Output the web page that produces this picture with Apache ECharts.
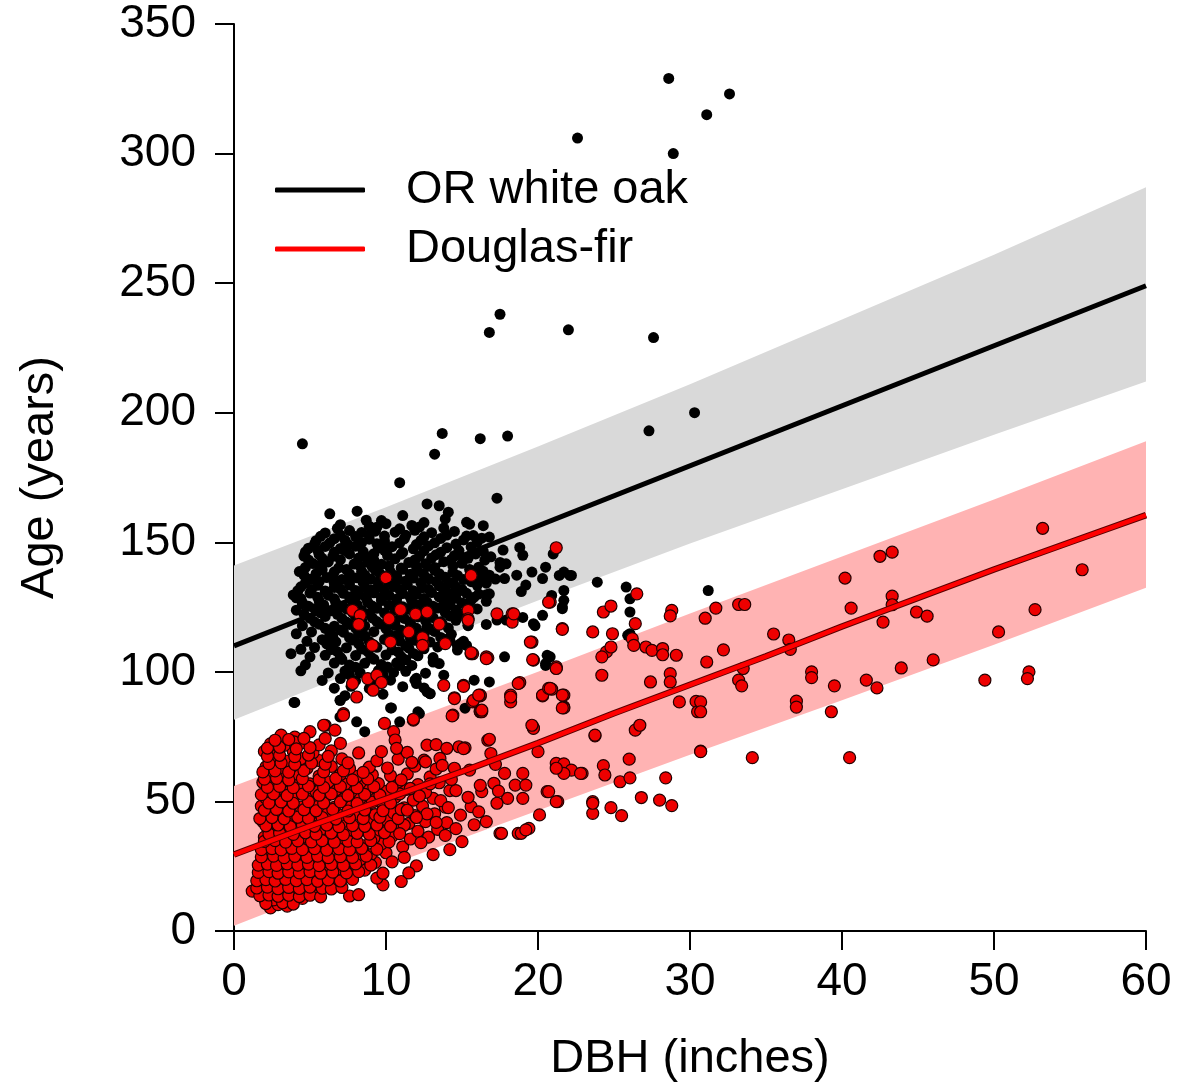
<!DOCTYPE html>
<html>
<head>
<meta charset="utf-8">
<script src="https://cdn.jsdelivr.net/npm/echarts@6/dist/echarts.min.js"></script>
<style>
html,body{margin:0;padding:0;background:#fff;}
#chart{width:1177px;height:1088px;}
</style>
</head>
<body>
<div id="chart"></div>
<script>
// ---- tick labels / axes ----
const xTicks = [0, 10, 20, 30, 40, 50, 60];
const yTicks = [0, 50, 100, 150, 200, 250, 300, 350];
const seriesNames = ['OR white oak', 'Douglas-fir'];

// ---- fitted lines ----
const oakLineX = [0, 60];
const oakLineY = [110, 249];
const firLineX = [0, 5, 10, 15, 20, 25, 30, 35, 40, 45, 50, 55, 60];
const firLineY = [29.5, 40.5, 51, 61.5, 72.5, 84, 95, 106, 117.5, 128.5, 139.5, 150, 160.5];

// ---- prediction bands ----
const bandX = [0, 10, 20, 30, 40, 50, 60];
const oakUpper = [141, 163.5, 187, 211, 236, 261, 287];
const oakLower = [81.5, 105, 127.5, 149.5, 170.5, 191.5, 212];
const firUpper = [56, 78, 100, 122.5, 144.5, 166.5, 189];
const firLower = [2, 25, 46.5, 68, 89, 110.5, 132.5];

// ---- OR white oak observations [DBH, age] ----
const oakPoints = [
[28.6,329],[31.1,315],[32.6,323],[22.6,306],[28.9,300],[17.5,238],[16.8,231],[22.0,232],[27.6,229],[4.5,188],[13.7,192],[13.2,184],[16.2,190],[18.0,191],[27.3,193],[30.3,200],[10.9,173],[17.3,167],
[6.3,161],[8.1,162],[8.7,158.5],[9.7,158.4],[11.1,160.3],[12.7,164.8],[13.5,164.1],[14.1,161.6],[13.9,159],[15.3,157.7],[16.4,156.4],[15.5,157],
[7.0,156.8],[10.0,157.2],[11.7,156.5],[12.5,157.6],[8.9,156.2],
[6.0,153.6],[7.6,154.5],[8.4,153.8],[9.3,154.3],[10.6,153.9],[11.9,154.6],[13.0,153.7],[14.5,154.2],
[5.4,150.6],[6.6,151.4],[7.3,150.8],[8.9,151.2],[9.9,150.5],[11.2,151.3],[12.3,150.7],[13.6,151.5],[15.1,150.9],[16.3,151.6],
[4.9,147.7],[6.0,148.4],[7.0,147.6],[8.0,148.5],[9.5,147.8],[10.4,148.3],[11.8,147.5],[12.8,148.6],[14.0,147.9],[15.6,148.2],
[4.6,144.7],[5.6,145.3],[6.5,144.6],[7.6,145.5],[8.6,144.8],[9.2,145.6],[10.1,144.9],[11.0,145.4],[12.2,144.6],[13.3,145.2],[14.5,144.8],[15.9,145.5],[16.9,144.4],
[5.2,141.8],[6.2,142.4],[7.9,141.6],[8.8,142.3],[9.7,141.5],[11.5,142.2],[12.6,141.7],[13.8,142.5],[15.0,141.9],[17.5,142.2],
[4.3,138.7],[5.8,139.4],[6.6,138.6],[7.4,139.5],[8.4,138.8],[9.3,139.3],[10.3,138.5],[11.1,139.6],[12.1,138.9],[13.2,139.2],[14.4,138.4],[15.5,139.5],[16.4,138.8],
[5.0,135.7],[6.1,136.4],[7.1,135.6],[8.1,136.3],[9.0,135.8],[10.0,136.6],[10.8,135.5],[11.8,136.2],[12.8,135.9],[13.9,136.5],[15.1,135.6],[16.1,136.3],[17.2,135.8],
[4.4,132.8],[5.5,133.4],[6.6,132.6],[7.6,133.5],[8.6,132.7],[9.5,133.3],[10.5,132.9],[11.4,133.6],[12.4,132.5],[13.5,133.2],[14.6,132.8],[16.0,133.4],
[3.9,129.7],[5.0,130.4],[6.2,129.6],[7.2,130.3],[8.2,129.8],[9.2,130.5],[10.2,129.5],[11.1,130.2],[12.0,129.9],[13.0,130.6],[14.2,129.6],[15.3,130.3],[16.6,129.8],
[4.5,126.7],[5.6,127.4],[6.7,126.6],[7.8,127.3],[8.8,126.8],[9.7,127.5],[10.7,126.5],[11.7,127.2],[12.7,126.9],[13.8,127.6],[15.0,126.6],
[4.1,123.8],[5.3,124.4],[6.4,123.6],[7.4,124.3],[8.4,123.7],[9.4,124.5],[10.6,123.8],[11.5,124.2],[12.4,123.5],[13.4,124.6],[14.6,123.9],[16.0,124.3],
[5.0,120.7],[6.0,121.4],[7.1,120.6],[8.0,121.3],[9.1,120.8],[10.1,121.5],[11.2,120.6],[12.1,121.2],[13.1,120.9],[14.2,121.6],[15.3,120.5],
[4.5,117.8],[5.6,118.4],[6.6,117.6],[7.6,118.3],[8.6,117.7],[9.6,118.5],[10.6,117.9],[11.6,118.2],[12.7,117.5],[13.7,118.6],[15.4,117.8],[16.6,118.3],
[4.1,114.7],[5.1,115.4],[6.3,114.6],[7.2,115.3],[8.2,114.8],[9.2,115.5],[10.2,114.6],[11.1,115.2],[12.2,114.9],[13.2,115.6],[14.3,114.5],
[4.8,111.8],[5.8,112.4],[6.7,111.6],[7.8,112.3],[8.9,111.7],[9.9,112.5],[10.9,111.9],[11.9,112.2],[12.9,111.5],[14.0,112.6],[15.1,111.8],
[4.4,108.7],[5.3,109.4],[6.4,108.6],[7.4,109.3],[8.4,108.8],[9.4,109.5],[10.4,108.5],[11.5,109.2],[12.5,108.9],[13.4,109.6],[14.7,108.4],
[5.0,105.8],[6.0,106.4],[7.0,105.6],[8.0,106.3],[9.0,105.7],[10.0,106.5],[11.0,105.9],[12.1,106.2],[13.1,105.5],
[4.7,102.7],[6.6,103.4],[7.6,102.6],[8.6,103.3],[9.7,102.8],[10.7,103.5],[11.7,102.5],[13.5,103.2],
[4.4,100.4],[6.2,99.6],[7.3,100.3],[8.3,99.7],[9.5,100.5],[10.5,99.8],[11.3,100.2],[12.6,99.5],
[5.8,96.7],[7.0,97.4],[8.0,96.6],[9.2,97.3],[10.3,96.8],[12.0,97.5],
[6.6,93.7],[7.7,94.4],[8.9,93.6],[11.1,94.3],[12.5,93.8],
[7.3,90.8],[9.8,91.4],[12.9,91.6],[4.0,88.2],[7.0,89.0],[10.3,86.1],
[6.8,155.4],[9.4,155.8],[10.9,155.2],[12.2,155.9],[13.8,155.5],
[5.7,152.3],[7.0,152.8],[8.0,152.2],[8.9,152.9],[9.9,152.4],[11.3,152.7],[12.5,152.1],[14.0,152.8],[15.3,152.4],
[5.3,149.3],[6.3,149.8],[7.5,149.2],[8.4,149.9],[9.4,149.4],[10.9,149.7],[12.0,149.1],[13.2,149.8],[14.6,149.3],[16.0,150.0],
[4.7,146.3],[5.5,146.9],[6.6,146.2],[7.3,146.8],[8.5,146.4],[9.9,146.9],[11.1,146.1],[12.5,146.7],[13.6,146.2],[14.8,146.8],[16.4,146.5],
[4.9,143.2],[5.8,143.8],[7.0,143.3],[8.2,143.9],[9.2,143.1],[10.6,143.6],[11.9,143.2],[13.0,143.9],[14.3,143.4],[15.4,143.8],[16.5,143.1],
[4.7,140.3],[5.6,140.9],[6.9,140.2],[8.3,140.8],[9.1,140.4],[10.2,140.9],[11.0,140.1],[12.0,140.7],[13.2,140.3],[14.4,140.9],[16.1,140.4],
[4.6,137.3],[5.4,137.9],[6.5,137.2],[7.6,137.8],[8.6,137.4],[9.6,137.9],[10.7,137.1],[11.6,137.7],[12.5,137.3],[13.5,137.9],[14.7,137.2],[15.8,137.8],[16.8,137.3],
[4.7,134.3],[5.6,134.8],[6.6,134.2],[7.6,134.9],[8.5,134.4],[9.5,134.7],[10.4,134.1],[11.3,134.8],[12.3,134.3],[13.3,134.9],[14.4,134.4],[15.6,134.8],[16.6,134.2],
[4.2,131.3],[5.1,131.8],[6.0,131.2],[7.0,131.9],[8.0,131.4],[9.0,131.7],[9.9,131.1],[10.9,131.8],[11.8,131.3],[12.8,131.9],[13.8,131.4],[15.0,131.8],
[4.4,128.3],[5.5,128.8],[6.6,128.2],[7.6,128.9],[8.7,128.4],[9.7,128.7],[10.7,128.1],[11.6,128.8],[12.5,128.3],[13.5,128.9],[14.6,128.4],[15.8,128.8],
[4.9,125.3],[5.9,125.8],[7.0,125.2],[8.1,125.9],[9.1,125.4],[10.2,125.7],[11.1,125.1],[12.1,125.8],[13.1,125.3],[14.2,125.9],
[4.6,122.3],[5.7,122.8],[6.8,122.2],[7.8,122.9],[8.9,122.4],[9.9,122.7],[11.0,122.1],[11.9,122.8],[12.9,122.3],[13.9,122.9],[15.0,122.4],
[5.3,119.3],[7.4,119.2],[8.4,119.9],[9.4,119.4],[10.6,119.7],[11.6,119.1],[12.6,119.8],[13.6,119.3],[14.6,119.9],
[6.0,116.8],[7.0,116.2],[8.0,116.9],[10.0,116.7],[11.0,116.1],[12.0,116.8],[13.0,116.3],[14.1,116.9],
[6.5,113.8],[7.6,113.2],[8.6,113.9],[10.6,113.7],[11.6,113.1],[12.5,113.8],[13.6,113.3],
[6.1,110.8],[8.2,110.9],[9.2,110.4],[11.3,110.1],[12.3,110.8],
[6.8,107.8],[8.8,107.9],[10.8,107.7],[11.8,107.1],
[7.1,104.8],[9.2,104.9],[11.3,104.7],
[8.0,101.8],[10.1,101.9],[7.6,98.8],[9.8,98.9],
[15.75,152.6],[16.8,152],[18.8,148],[19.0,145],[17.7,147],[17.9,141.7],[17.5,140.4],[17.8,136],[18.6,137.3],[19.6,138.5],[20.5,140.4],[20.3,136],[21.4,137.2],[22.2,137.2],[21.0,145.5],[21.7,131.4],[21.7,127.6],[21.6,125],[20.9,129.5],[16.4,137.3],[16.8,130.1],[16.1,130],[15.6,127.6],[14.9,131.4],[14.3,130.1],[14.1,134],[13.8,124.4],[15.4,125],[16.6,127.2],[15.4,118],[14.2,112.2],[14.9,110.9],[15.3,110.2],[17.3,120],[17.9,120],[19.0,121],[19.7,118.6],[20.3,121.8],[20.8,105.8],[20.5,103.2],[17.8,105.8],[16.8,96.1],[15.8,96.8],[13.8,98.7],[13.1,103.8],[12.0,95.5],[12.9,91.6],[23.9,134.6],[25.8,132.7],[26.05,128.2],[31.2,131.4],[26.05,123.1],[21.6,124.4],[26.05,114.7],[22.1,137.2],[20.6,106.4],[20.5,102.5],[15.1,94.8],[14.7,110.2],[12.7,92.3],[11.9,96.8],[10.9,102.5],[15.2,86],[12.1,84.6],[8.07,80.7],[8.6,76.9],[6.97,82.6],[10.9,80.7],[12.2,83.9],[3.95,88.2],[6.97,89],[10.36,86.1],[3.75,107],[4.1,128.6],[4.5,126.3],[19.8,117.8],[19.2,133.5],[18.9,131.0],[21.7,138.5],[25.9,114.1]
];

// ---- Douglas-fir observations [DBH, age] ----
const firPoints = [
[2.4,8.9],[2.9,10.2],[3.5,9.6],
[2.0,12.4],[2.6,12.0],[3.2,12.8],[3.9,11.9],[4.5,12.6],
[1.2,15.4],[1.9,15.1],[2.6,15.6],[3.3,14.8],[4.0,15.5],[4.7,14.9],[5.5,15.7],[7.6,13.5],[8.2,14.0],
[1.8,18.2],[2.4,17.7],[3.0,18.5],[3.7,17.9],[4.4,18.4],[5.1,17.6],[5.9,18.3],[6.7,17.8],[9.8,17.8],[11.0,19.1],
[2.2,21.3],[2.8,20.6],[3.4,21.5],[4.1,20.8],[4.8,21.4],[5.6,20.7],[6.3,21.2],[7.2,20.9],[9.4,20.4],[9.8,22.3],
[1.9,24.2],[2.5,23.6],[3.2,24.5],[3.9,23.8],[4.6,24.4],[5.3,23.7],[6.0,24.3],[6.8,23.9],[7.7,24.6],[8.6,23.5],
[2.3,27.3],[3.0,26.6],[3.7,27.4],[4.4,26.8],[5.1,27.5],[5.9,26.7],[6.6,27.2],[7.4,26.9],[8.3,27.6],[9.3,26.5],
[2.1,29.8],[2.7,30.5],[3.4,29.6],[4.2,30.3],[4.9,29.7],[5.7,30.4],[6.5,29.9],[7.9,30.6],[9.0,29.5],[10.0,30.2],
[2.4,33.3],[3.1,32.6],[3.9,33.5],[4.7,32.8],[5.5,33.4],[6.2,32.7],[7.1,33.2],[8.5,32.9],[9.7,33.6],[11.1,32.5],
[2.0,36.2],[2.8,35.6],[3.6,36.5],[4.4,35.8],[6.0,36.3],[6.9,35.7],[7.8,36.4],[9.2,35.9],[10.4,36.6],[11.6,35.5],[12.8,36.2],
[2.5,39.3],[3.3,38.6],[4.1,39.4],[5.0,38.8],[5.8,39.5],[7.5,38.7],[8.4,39.2],[9.6,38.9],[10.9,39.6],[12.1,38.5],[13.4,39.2],
[1.9,42.2],[2.7,41.6],[3.5,42.5],[4.6,41.8],[5.4,42.4],[6.4,41.7],[7.2,42.3],[8.8,41.9],[10.1,42.6],[11.5,41.5],[12.6,42.2],[14.0,41.8],
[2.3,45.3],[3.1,44.6],[3.9,45.4],[5.0,44.8],[6.1,45.5],[7.0,44.7],[8.1,45.2],[9.3,44.9],[10.5,45.6],[11.9,44.5],[13.2,45.2],
[1.8,48.2],[2.6,47.6],[3.5,48.5],[4.4,47.8],[5.6,48.4],[6.6,47.7],[7.7,48.3],[8.7,47.9],[9.8,48.6],[11.2,47.5],[12.4,48.2],[13.9,47.8],
[2.1,51.3],[2.9,50.6],[3.9,51.4],[4.9,50.8],[6.0,51.5],[7.1,50.7],[8.3,51.2],[9.2,50.9],[10.6,51.6],[11.8,50.5],[13.1,51.2],
[2.5,54.2],[3.4,53.6],[4.4,54.5],[5.4,53.8],[6.7,54.4],[7.7,53.7],[8.8,54.3],[10.0,53.9],[11.3,54.6],[12.6,53.5],[14.2,54.2],
[1.9,57.3],[2.8,56.6],[3.8,57.4],[5.0,56.8],[6.2,57.5],[7.3,56.7],[8.3,57.2],[9.5,56.9],[10.8,57.6],[12.1,56.5],[13.5,57.2],
[2.3,60.2],[3.2,59.6],[4.2,60.5],[5.6,59.8],[7.0,60.4],[8.1,59.7],[9.1,60.3],[10.3,59.9],[11.4,60.6],[12.9,59.5],
[2.1,63.3],[2.9,62.6],[3.8,63.4],[4.8,62.8],[6.4,63.5],[7.6,62.7],[8.9,63.2],[10.1,62.9],[11.9,63.6],[13.3,62.5],
[2.5,66.2],[3.4,65.6],[4.4,66.5],[5.6,65.8],[7.1,66.4],[9.4,65.7],[10.8,66.3],[12.5,65.9],
[2.0,69.3],[2.9,68.6],[3.9,69.4],[5.2,68.8],[6.4,69.5],[8.2,68.7],[9.7,69.2],[11.4,68.9],
[2.4,72.2],[3.3,71.6],[4.4,72.5],[5.6,71.8],[7.0,72.4],
[3.1,75.6],[4.0,74.8],[5.0,76.9],[3.95,73],[5.99,79.4],[6.64,77.5],[7.2,83.9],[6.0,74.3],[9.9,80.1],[10.5,76.9],[10.6,73.7],[10.7,70.5],[11.8,81.4],[14.4,83.3],[16.2,84.6],[19.7,78.4],[16.7,73.6],[18.2,88.4],[21.7,86.5],
[2.1,10.6],[3.2,10.9],[3.9,10.4],
[1.7,13.6],[2.3,13.9],[2.9,13.4],[3.6,13.8],[4.3,13.3],[5.0,13.8],[5.7,13.2],
[1.5,16.6],[2.2,16.9],[2.9,16.3],[3.6,16.8],[4.3,16.4],[5.0,16.9],[5.8,16.5],[6.4,16.2],[7.1,16.8],
[1.5,19.4],[2.1,19.8],[2.7,19.3],[3.4,19.9],[4.1,19.4],[4.8,19.8],[5.5,19.2],[6.2,19.7],[7.0,19.3],[7.8,19.9],
[1.6,22.6],[2.3,22.9],[2.9,22.3],[3.6,22.8],[4.3,22.4],[5.0,22.9],[5.7,22.3],[6.5,22.7],[7.4,22.4],[8.2,22.9],
[1.6,25.4],[2.2,25.8],[2.8,25.3],[3.5,25.9],[4.2,25.4],[4.9,25.8],[5.6,25.2],[6.4,25.7],[7.2,25.3],[8.0,25.9],[9.0,25.4],
[1.8,28.6],[2.6,28.9],[3.3,28.3],[4.0,28.8],[4.8,28.4],[5.5,28.9],[6.2,28.3],[7.0,28.7],[7.8,28.4],[8.7,28.9],
[1.8,31.4],[2.5,31.8],[3.1,31.3],[3.8,31.9],[4.5,31.4],[5.3,31.8],[6.1,31.2],[6.9,31.7],[7.6,31.3],[8.4,31.9],[9.4,31.5],
[2.0,34.6],[2.7,34.9],[3.4,34.3],[4.2,34.8],[5.1,34.4],[5.8,34.9],[6.6,34.3],[7.5,34.7],[8.1,34.4],[9.0,34.9],[10.2,34.4],
[2.3,37.4],[3.0,37.8],[3.9,37.3],[4.7,37.9],[5.4,37.4],[6.4,37.8],[7.2,37.2],[8.1,37.7],[8.9,37.4],[9.9,37.9],
[2.1,40.6],[2.9,40.9],[3.7,40.3],[4.5,40.8],[5.3,40.4],[6.1,40.9],[6.9,40.3],[7.8,40.7],[8.6,40.4],[9.4,40.9],[10.3,40.4],[11.2,40.8],
[1.7,43.4],[2.5,43.8],[3.3,43.3],[4.2,43.9],[4.9,43.4],[5.8,43.8],[6.7,43.2],[7.6,43.7],[8.5,43.4],[9.6,43.9],[10.8,43.4],
[2.0,46.6],[2.8,46.9],[3.6,46.3],[4.6,46.8],[5.4,46.4],[6.5,46.9],[7.5,46.3],[8.6,46.7],[9.8,46.4],[11.0,46.9],
[2.3,49.4],[3.1,49.8],[3.9,49.3],[4.9,49.9],[5.9,49.4],[7.0,49.8],[8.1,49.2],[9.1,49.7],[10.3,49.4],
[1.8,52.6],[2.6,52.9],[3.5,52.3],[4.5,52.8],[5.6,52.4],[6.4,52.9],[7.5,52.3],[8.6,52.7],[9.6,52.4],[10.9,52.9],
[2.2,55.4],[3.0,55.8],[3.9,55.3],[4.9,55.9],[5.9,55.4],[7.0,55.8],[8.1,55.2],[9.2,55.7],[10.4,55.4],
[2.0,58.6],[2.8,58.9],[3.6,58.3],[4.5,58.8],[5.6,58.4],[6.7,58.9],[7.8,58.3],[8.8,58.7],
[1.9,61.4],[2.7,61.8],[3.6,61.3],[4.6,61.9],[5.9,61.4],[7.2,61.8],[8.5,61.2],
[2.3,64.6],[3.1,64.9],[4.0,64.3],[5.1,64.8],[6.0,64.4],[7.5,64.9],
[2.2,67.4],[3.0,67.8],[4.0,67.3],[4.9,67.9],[6.2,67.4],
[2.2,70.6],[3.0,70.9],[4.1,70.3],[5.0,70.8],
[2.7,73.6],[3.6,73.9],[4.6,74.3],
[12.45,110.9],[15.7,107],[16.7,105.4],[19.6,111.5],[19.7,104.5],[21.2,101.5],[13.8,94.8],[15.1,94.8],[14.5,90],[15.7,88.4],[16.2,90.7],[18.2,91],[18.8,95.9],[20.3,90.7],[20.9,93.3],[21.7,91],[21.7,86.1],[11.8,81.7],[14.35,83],[16.2,84.8],[16.8,74],[23.75,75.3],[12.7,71.7],[13.3,71.9],[14.0,70.5],[14.8,71.1],[15.2,70.7],[16.9,68.5],[11.7,65.1],[12.6,65.3],[13.55,66.6],[13.7,63.9],[14.5,62.8],[15.5,62.1],[17.2,64.3],[20.0,69.2],[21.2,64.7],[21.7,64.5],[22.2,62.1],[22.9,60.8],[21.7,60.8],[23.6,49.9],[23.6,45.4],[20.6,53.8],[21.3,49.9],[20.1,44.8],[17.8,60.8],[19.0,60.8],[18.5,56.3],[19.2,56.3],[18.0,51.2],[19.0,51.2],[17.3,49.3],[16.6,42.2],[17.5,37.7],[18.7,37.7],[19.4,39.6],[15.6,48],[16.3,53.8],[16.2,56.2],[17.1,57],[17.4,54],[14.6,54.2],[15.0,34.5],
[11.0,58.3],[11.6,55.0],[12.2,52.1],[12.9,56.8],[13.6,50.3],[14.3,58.5],[14.9,44.7],[15.4,51.6],[11.4,46.6],[12.7,45.2],[14.1,47.6],[13.3,41.9],[12.0,43.8],[10.9,37.6],[12.3,34.1],[13.9,36.9],[14.6,39.5],[15.8,41.0],[16.1,46.0],[11.2,28.4],[12.0,25.1],[13.1,29.5],[14.2,31.4],[11.5,22.4],[10.4,26.7],
[28.8,123.7],[28.7,121.6],[26.5,130.1],[24.3,123.1],[24.8,125.4],[23.6,115.4],[24.9,114.7],[26.4,118.6],[26.2,112.8],[26.3,110.2],[27.1,109.6],[27.5,108.3],[28.2,109],[28.2,106.6],[29.1,106.4],[24.5,107.7],[24.2,105.8],[24.8,109.6],[24.2,98.7],[27.4,96.1],[28.7,99.3],[28.7,96.1],[29.3,88.4],[30.4,88.6],[30.5,84.6],[26.4,77.5],[26.7,79.4],[23.75,75.6],[30.7,69.4],[26.0,66.3],[24.3,63.8],[24.4,60.2],[25.4,57.6],[26.05,59.1],[28.4,59.1],[26.8,51.5],[28.0,50.5],[28.8,48.4],[23.6,49.3],[24.8,47.6],[25.5,44.5],[21.2,62.8],[22.8,60.8],[21.2,49.9],[20.7,53.8],[17.6,37.7],[18.9,37.7],[19.2,39],[19.7,78.2],[21.6,91],[20.3,91],[20.7,93.6],[18.7,95.5],[16.2,91],[16.3,84.6],[20.8,126.9],[15.4,123.7],[15.4,120.5],[17.3,122.4],[18.3,122.4],[18.3,119.2],[15.6,137.2],[21.6,116.7],[21.2,101.9],[16.6,105.8],[15.6,107],[14.5,89.7],[15.1,70.4],
[53.2,155.4],[42.5,144.6],[43.3,146.2],[55.8,139.4],[40.2,136.2],[40.6,124.6],[43.3,129.2],[43.3,125.9],[44.9,123.1],[45.6,121.5],[42.7,119.2],[52.7,124],[50.3,115.4],[46.0,104.6],[43.9,101.5],[41.6,96.8],[42.3,93.8],[49.4,96.8],[52.3,100],[52.2,97.4],[39.5,94.6],[38.0,100],[38.0,97.8],[37.0,88.7],[37.0,86.4],[39.3,84.6],[34.1,66.9],[40.5,66.9],[35.5,114.6],[36.5,112.3],[36.6,108.7],[32.2,108.5],[31.1,103.8],[33.2,126],[33.6,126],[31.7,124.6],[31.0,120.7],[33.2,96.8],[33.4,94.6],[33.5,101.3],[30.7,88.4],[30.7,84.6],[30.7,69.2],
[10.0,136.3],[7.8,123.7],[8.3,121.8],[8.2,118.3],[10.2,120.5],[10.95,124],[11.95,122.3],[12.7,123.1],[13.5,118.4],[11.5,115.4],[9.1,110.2],[10.3,111.5],[12.4,113.2],[12.4,110.2],[13.9,110.9],[15.4,119.9],[15.6,107.4],[16.6,105.1],[18.4,122.4],[21.2,147.9],[20.7,126.9],[21.6,116.4],[19.5,111.5],[19.65,104.7],[21.2,101.3],[7.8,95.5],[8.8,97.4],[9.4,98.7],[9.7,95.9],[8.07,90.3],[9.15,92.9],[15.1,94.4],[7.2,83.3],[15.75,89],[16.1,91],[18.2,90.3],[16.3,85.2],[20.8,93.6],[21.6,86.1],[19.6,79.4],[5.9,79.4]
];

const FONT = '"Liberation Sans", Arial, sans-serif';

function pairs(xs, ys) { return xs.map((x, i) => [x, ys[i]]); }

function bandSeries(upper, lower, color) {
  return {
    type: 'custom',
    silent: true,
    clip: true,
    z: 1,
    data: [[bandX[0], lower[0]]],
    renderItem: function (params, api) {
      const pts = [];
      for (let i = 0; i < bandX.length; i++) pts.push(api.coord([bandX[i], upper[i]]));
      for (let i = bandX.length - 1; i >= 0; i--) pts.push(api.coord([bandX[i], lower[i]]));
      return { type: 'polygon', shape: { points: pts }, style: { fill: color } };
    }
  };
}

const chart = echarts.init(document.getElementById('chart'), null, { renderer: 'canvas' });
chart.setOption({
  animation: false,
  backgroundColor: '#ffffff',
  grid: { left: 234, right: 31, top: 24, bottom: 155, containLabel: false },
  legend: {
    data: seriesNames,
    orient: 'vertical',
    left: 270,
    top: 160,
    itemWidth: 90,
    itemHeight: 5,
    itemGap: 9,
    icon: 'roundRect',
    selectedMode: false,
    textStyle: { fontFamily: FONT, fontSize: 47, color: '#000', padding: [0, 0, 0, 36], lineHeight: 50 }
  },
  xAxis: {
    type: 'value', min: xTicks[0], max: xTicks[xTicks.length - 1], interval: 10,
    name: 'DBH (inches)', nameLocation: 'middle', nameGap: 105,
    nameTextStyle: { fontFamily: FONT, fontSize: 47, color: '#000' },
    axisLine: { show: true, onZero: false, lineStyle: { color: '#000', width: 2 } },
    axisTick: { show: true, inside: false, length: 19, lineStyle: { color: '#000', width: 2 } },
    axisLabel: { fontFamily: FONT, fontSize: 46, color: '#000', margin: 28 },
    splitLine: { show: false }
  },
  yAxis: {
    type: 'value', min: yTicks[0], max: yTicks[yTicks.length - 1], interval: 50,
    name: 'Age (years)', nameLocation: 'middle', nameGap: 170, nameRotate: 90,
    nameTextStyle: { fontFamily: FONT, fontSize: 47, color: '#000' },
    axisLine: { show: true, onZero: false, lineStyle: { color: '#000', width: 2 } },
    axisTick: { show: true, inside: false, length: 19, lineStyle: { color: '#000', width: 2 } },
    axisLabel: { fontFamily: FONT, fontSize: 46, color: '#000', margin: 38 },
    splitLine: { show: false }
  },
  series: [
    bandSeries(oakUpper, oakLower, '#d9d9d9'),
    bandSeries(firUpper, firLower, '#ffb3b3'),
    {
      name: 'oak obs', type: 'scatter', z: 3, symbol: 'circle', symbolSize: 11,
      itemStyle: { color: '#000', opacity: 1 }, data: oakPoints, silent: true
    },
    {
      name: 'fir obs', type: 'scatter', z: 4, symbol: 'circle', symbolSize: 12,
      itemStyle: { color: '#ee0000', borderColor: '#220000', borderWidth: 1.2, opacity: 1 }, data: firPoints, silent: true
    },
    {
      name: seriesNames[0], type: 'line', z: 5, showSymbol: false, symbol: 'none',
      lineStyle: { color: '#000', width: 5 }, itemStyle: { color: '#000' },
      data: pairs(oakLineX, oakLineY)
    },
    {
      name: 'fir edge', type: 'line', z: 6, showSymbol: false, symbol: 'none', silent: true,
      lineStyle: { color: '#5a0000', width: 6.5 }, data: pairs(firLineX, firLineY)
    },
    {
      name: seriesNames[1], type: 'line', z: 7, showSymbol: false, symbol: 'none',
      lineStyle: { color: '#ff0000', width: 4.5 }, itemStyle: { color: '#ff0000' },
      data: pairs(firLineX, firLineY)
    }
  ]
});
</script>
</body>
</html>
